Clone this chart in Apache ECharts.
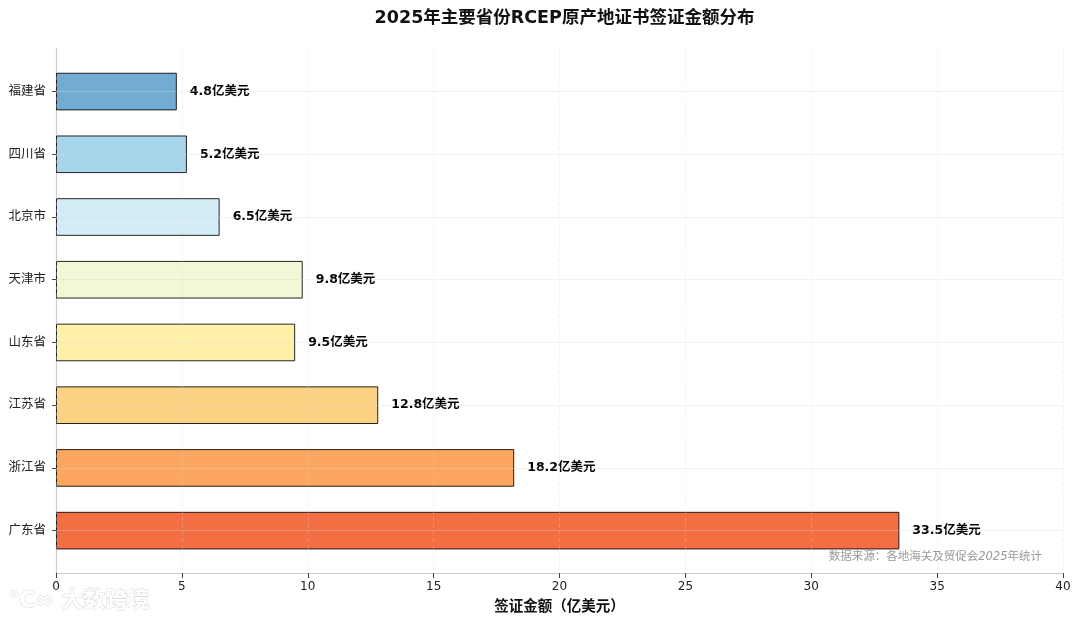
<!DOCTYPE html>
<html><head><meta charset="utf-8">
<script src="https://cdn.jsdelivr.net/npm/echarts@6/dist/echarts.min.js"></script>
<style>html,body{margin:0;padding:0;background:#fff}#c{width:1080px;height:624px}</style>
</head><body><div id="c"></div>
<script>
const categories = ['福建省','四川省','北京市','天津市','山东省','江苏省','浙江省','广东省'];
const values = [4.8, 5.2, 6.5, 9.8, 9.5, 12.8, 18.2, 33.5];
const barColors = ['#72acd2','#a7d5e9','#d4ecf5','#f2f8d7','#fff1a9','#fdd283','#fca65f','#f46e44'];
const xTicks = [0,5,10,15,20,25,30,35,40];
const unit = '亿美元';

const chart = echarts.init(document.getElementById('c'));
const font = '"DejaVu Sans","Noto Sans CJK SC",sans-serif';
chart.setOption({
  animation:false,
  backgroundColor:'#fff',
  title:{text:'2025年主要省份RCEP原产地证书签证金额分布',left:559.5,textAlign:'center',top:5,
    textStyle:{fontFamily:font,fontSize:17.5,fontWeight:'bold',color:'#111'}},
  grid:[
    {left:56,right:17,top:48,bottom:51},
    {left:56,right:17,top:60.2,bottom:62}
  ],
  xAxis:[
    {gridIndex:0,type:'value',min:0,max:40,interval:5,z:5,
     axisLine:{show:true,lineStyle:{color:'#cccccc',width:1.2}},
     axisTick:{show:true,length:5,lineStyle:{color:'#444'}},
     axisLabel:{color:'#222',fontSize:12,fontFamily:font,margin:8},
     splitLine:{show:true,lineStyle:{color:'rgba(215,215,215,0.3)',type:[4,3],width:1}},
     name:'签证金额（亿美元）',nameLocation:'middle',nameGap:27,
     nameTextStyle:{fontFamily:font,fontSize:14.5,fontWeight:'bold',color:'#111'}},
    {gridIndex:1,type:'value',min:0,max:40,show:false}
  ],
  yAxis:[
    {gridIndex:0,type:'value',min:0,max:1,
     axisLine:{show:true,lineStyle:{color:'#cccccc',width:1.2}},
     axisTick:{show:false},axisLabel:{show:false},splitLine:{show:false}},
    {gridIndex:1,type:'category',data:categories,inverse:true,
     axisLine:{show:false},
     axisTick:{show:true,alignWithLabel:true,length:4,lineStyle:{color:'#444'}},
     axisLabel:{color:'#222',fontSize:12.5,fontFamily:font,margin:10},
     splitLine:{show:false}}
  ],
  series:[{
    type:'bar',xAxisIndex:1,yAxisIndex:1,
    data:values.map((v,i)=>({value:v,itemStyle:{color:barColors[i]}})),
    barWidth:'60%',
    itemStyle:{borderColor:'rgba(0,0,0,0.85)',borderWidth:1},
    label:{show:true,position:'right',distance:13,formatter:p=>p.value+unit,
      fontFamily:font,fontSize:12.5,fontWeight:'bold',color:'#000'},
    markLine:{silent:true,symbol:'none',label:{show:false},
      lineStyle:{color:'rgba(215,215,215,0.35)',type:'solid',width:1},
      data:categories.map(c=>({yAxis:c}))},
    z:2
  }],
  graphic:[
    {type:'text',right:38,top:551,style:{
      text:'{a|数据来源：各地海关及贸促会}{b|2025}{a|年统计}',
      rich:{a:{fill:'#999',fontSize:11.5,fontFamily:font},
            b:{fill:'#999',fontSize:11.5,fontStyle:'italic',fontFamily:font}}}},
    {type:'text',left:8,top:590,style:{text:'℃∞ 大数跨境',fill:'#fff',stroke:'#dddddd',lineWidth:1.2,
      fontSize:22,fontWeight:'bold',fontFamily:font}}
  ]
});
</script></body></html>
